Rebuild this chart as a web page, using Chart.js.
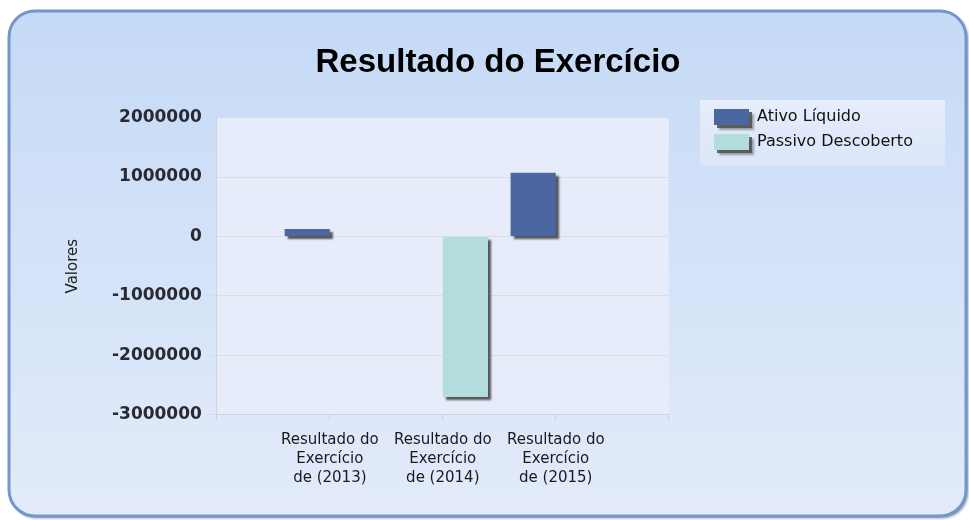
<!DOCTYPE html>
<html>
<head>
<meta charset="utf-8">
<script src="https://cdn.jsdelivr.net/npm/chart.js@4"></script>
<style>
  html, body { margin: 0; padding: 0; background: #ffffff; }
  #wrap { width: 969px; height: 520px; }
</style>
</head>
<body>
<div id="wrap"><canvas id="chart" width="969" height="520"></canvas></div>
<script>
// dados do gráfico (as pontas vazias só dão espaço ao eixo)
const categories = [
  "",
  ["Resultado do", "Exercício", "de (2013)"],
  ["Resultado do", "Exercício", "de (2014)"],
  ["Resultado do", "Exercício", "de (2015)"],
  ""
];
const ativoLiquido = [null, 125000, null, 1070000, null];
const passivoDescoberto = [null, null, -2700000, null, null];
const yTicks = [2000000, 1000000, 0, -1000000, -2000000, -3000000];

const FONT = "'DejaVu Sans', Verdana, sans-serif";

// fundo arredondado + área do gráfico + caixa da legenda
const backdrop = {
  id: "backdrop",
  beforeDraw(chart) {
    const { ctx, chartArea: a } = chart;
    ctx.save();
    ctx.fillStyle = "#ffffff";
    ctx.fillRect(0, 0, chart.width, chart.height);

    const x = 9, y = 11, w = 957, h = 505, r = 26;
    const g = ctx.createLinearGradient(0, y, 0, y + h);
    g.addColorStop(0, "#c5daf6");
    g.addColorStop(1, "#e3ebfa");
    ctx.beginPath();
    ctx.roundRect(x, y, w, h, r);
    ctx.shadowColor = "rgba(40,50,70,0.6)";
    ctx.shadowOffsetX = 2;
    ctx.shadowOffsetY = 2;
    ctx.shadowBlur = 3;
    ctx.fillStyle = g;
    ctx.fill();
    ctx.shadowColor = "transparent";
    ctx.lineWidth = 3;
    ctx.strokeStyle = "#7296cd";
    ctx.stroke();

    ctx.fillStyle = "#e6ecfa";
    ctx.fillRect(a.left, a.top, a.right - a.left, a.bottom - a.top);

    const lg = chart.legend;
    const lgGrad = ctx.createLinearGradient(0, 100, 0, 166);
    lgGrad.addColorStop(0, "#e6edfb");
    lgGrad.addColorStop(1, "#dbe6f9");
    ctx.fillStyle = lgGrad;
    ctx.fillRect(lg.left - 5, lg.top, 245, 66);

    // sombra atrás das caixinhas da legenda
    const bw = lg.options.labels.boxWidth, bh = lg.options.labels.boxHeight;
    ctx.fillStyle = "rgba(80,80,80,0.85)";
    ctx.shadowColor = "rgba(80,80,80,0.6)";
    ctx.shadowBlur = 2;
    (lg.legendHitBoxes || []).forEach(hb => {
      ctx.fillRect(hb.left + 3, hb.top + 3, bw, bh);
    });
    ctx.restore();
  }
};

// sombra dos retângulos
const barShadow = {
  id: "barShadow",
  beforeDatasetsDraw(chart) {
    const ctx = chart.ctx;
    ctx.save();
    ctx.shadowColor = "rgba(70,70,70,0.9)";
    ctx.shadowOffsetX = 3;
    ctx.shadowOffsetY = 3;
    ctx.shadowBlur = 2;
  },
  afterDatasetsDraw(chart) {
    chart.ctx.restore();
  }
};

// posição do título e da legenda como no original
const placeBoxes = {
  id: "placeBoxes",
  afterLayout(chart) {
    const t = chart.titleBlock;
    const mid = 498;
    const half = (t.right - t.left) / 2;
    t.left = mid - half;
    t.right = mid + half;

    const lg = chart.legend;
    const lw = lg.right - lg.left, lh = lg.bottom - lg.top;
    lg.left = 705;
    lg.right = 705 + lw;
    lg.top = 100;
    lg.bottom = 100 + lh;
  }
};

new Chart(document.getElementById("chart"), {
  type: "bar",
  data: {
    labels: categories,
    datasets: [
      {
        label: "Ativo Líquido",
        data: ativoLiquido,
        backgroundColor: "#4b67a1",
        borderWidth: 0
      },
      {
        label: "Passivo Descoberto",
        data: passivoDescoberto,
        backgroundColor: "#b3dcdd",
        borderWidth: 0
      }
    ]
  },
  options: {
    responsive: false,
    animation: false,
    categoryPercentage: 0.8,
    barPercentage: 1.0,
    layout: {
      padding: { top: 10, left: 20, right: 84, bottom: 23 }
    },
    scales: {
      x: {
        offset: false,
        grid: {
          offset: false,
          drawOnChartArea: false,
          tickLength: 6,
          color: "#cfd3db"
        },
        border: { color: "#cfd3db" },
        ticks: {
          autoSkip: false,
          maxRotation: 0,
          padding: 10,
          color: "#1a1a1a",
          font: { family: FONT, size: 15, lineHeight: 1.25 }
        }
      },
      y: {
        min: -3000000,
        max: 2000000,
        afterBuildTicks(scale) {
          scale.ticks = yTicks.map(v => ({ value: v }));
        },
        grid: {
          color: "#d9dce4",
          tickLength: 10
        },
        border: { color: "#cfd3db" },
        ticks: {
          padding: 5,
          color: "#2a2a33",
          font: { family: FONT, size: 17, weight: "bold" },
          callback: v => String(v)
        },
        title: {
          display: true,
          text: "Valores",
          color: "#222222",
          font: { family: FONT, size: 15 },
          padding: { top: 44, bottom: 25 }
        }
      }
    },
    plugins: {
      title: {
        display: true,
        text: "Resultado do Exercício",
        color: "#000000",
        font: { family: "'Liberation Sans', Arial, sans-serif", size: 33, weight: "bold" },
        padding: { top: 33, bottom: 35 }
      },
      legend: {
        position: "right",
        align: "start",
        labels: {
          boxWidth: 35,
          boxHeight: 16,
          padding: 9,
          color: "#111111",
          font: { family: FONT, size: 16 }
        }
      },
      tooltip: { enabled: false }
    }
  },
  plugins: [backdrop, barShadow, placeBoxes]
});
</script>
</body>
</html>
